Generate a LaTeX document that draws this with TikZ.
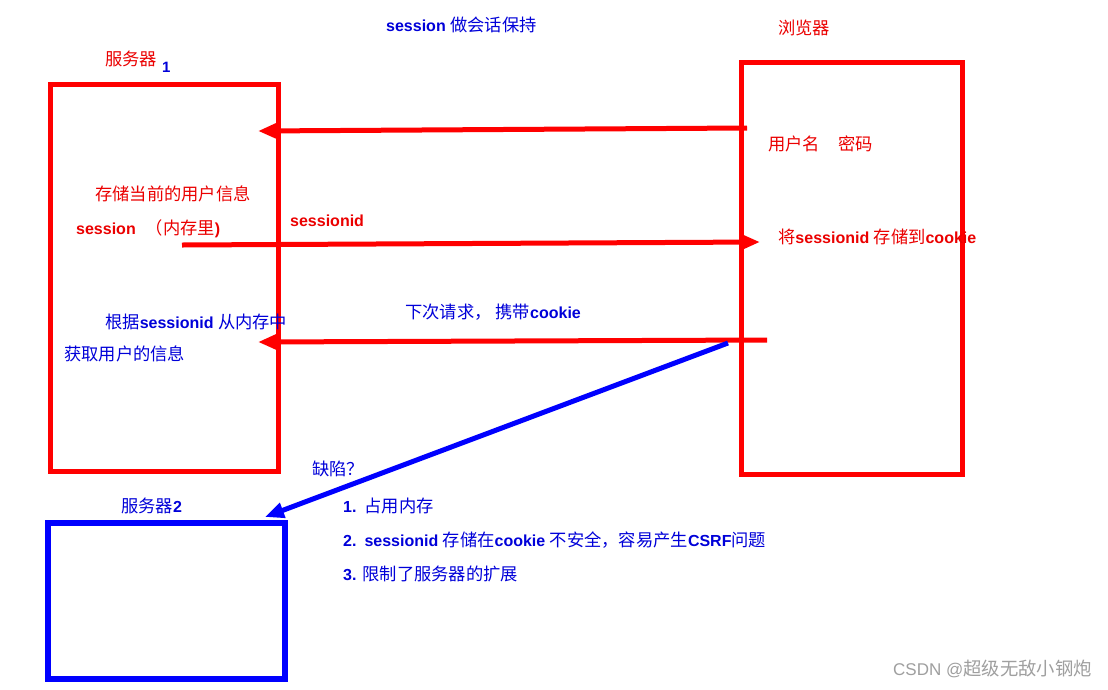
\documentclass[tikz,border=0pt]{standalone}
\usepackage{fontspec}
\setmainfont{Liberation Sans}
\newfontfamily\cjk[Scale=1.08]{Noto Sans CJK SC}
\newcommand\zh[1]{{\cjk\mdseries #1}}
\usetikzlibrary{arrows.meta,positioning}

\begin{document}
\begin{tikzpicture}[x=1pt,y=-1pt,
every node/.style={inner sep=0pt,font=\fontsize{16}{18}\selectfont\bfseries},
redtxt/.style={text=red!92!black,anchor=base west},
bluetxt/.style={text=blue!85!black,anchor=base west},
redbox/.style={draw=red,line width=5pt},
bluebox/.style={draw=blue,line width=6pt},
redarrow/.style={red,line width=5pt,-{Triangle[length=19pt,width=15pt]}},
bluearrow/.style={blue,line width=5pt,-{Triangle[length=19pt,width=15pt]}}]
\useasboundingbox[fill=white] (0,0) rectangle (1108,689);
\node[redbox,minimum width=228pt,minimum height=387pt] (srv1) at (164,277.5) {};
\node[redbox,minimum width=221pt,minimum height=412pt] (browser) at (851.5,268) {};
\node[bluebox,minimum width=237pt,minimum height=156pt] (srv2) at (166.5,601) {};
\node[bluetxt] (title) at (386,31) {session \zh{做会话保持}};
\node[redtxt] (browserlbl) at (778,34) {\zh{浏览器}};
\node[redtxt] (srv1lbl) at (105,65) {\zh{服务器}};
\node[bluetxt,font=\fontsize{15}{17}\selectfont\bfseries] (srv1num) at (162,72) {1};
\node[bluetxt] (srv2lbl) at (121,512) {\zh{服务器}2};
\node[redtxt] (login) at (768,150) {\zh{用户名\hspace{18pt}密码}};
\node[redtxt] (store) at (778,243) {\zh{将}sessionid \zh{存储到}cookie};
\node[redtxt] (userinfo) at (95,200) {\zh{存储当前的用户信息}};
\node[redtxt] (mem) at (76,234) {session\hspace{10pt}\zh{（内存里})};
\node[redtxt] (sid) at (290,226) {sessionid};
\node[bluetxt] (lookup) at (105,328) {\zh{根据}sessionid \zh{从内存中}};
\node[bluetxt] (fetch) at (64,360) {\zh{获取用户的信息}};
\node[bluetxt] (next) at (405,318) {\zh{下次请求，\hspace{4pt}携带}cookie};
\node[bluetxt] (flaw) at (312,475) {\zh{缺陷？}};
\node[bluetxt] (flaw1) at (343,512) {1.\hspace{8pt}\zh{占用内存}};
\node[bluetxt] (flaw2) at (343,546) {2.\hspace{8pt}sessionid \zh{存储在}cookie \zh{不安全，容易产生}CSRF\zh{问题}};
\node[bluetxt] (flaw3) at (343,580) {3. \zh{限制了服务器的扩展}};
\node[anchor=base east,text=gray!75,font=\fontsize{17}{19}\selectfont] (mark) at (1092,675) {CSDN @\zh{超级无敌小钢炮}};
\coordinate (pwdout) at (747,128);
\coordinate (pwdin) at (258,131);
\coordinate (sidout) at (182,245);
\coordinate (sidin) at (760,242);
\coordinate (reqout) at (767,340);
\coordinate (reqin) at (258,342);
\coordinate (flawout) at (728,343);
\coordinate (flawin) at (265,517);
\draw[redarrow] (pwdout) -- (pwdin);
\draw[redarrow] (sidout) -- (sidin);
\draw[redarrow] (reqout) -- (reqin);
\draw[bluearrow] (flawout) -- (flawin);
\end{tikzpicture}
\end{document}
